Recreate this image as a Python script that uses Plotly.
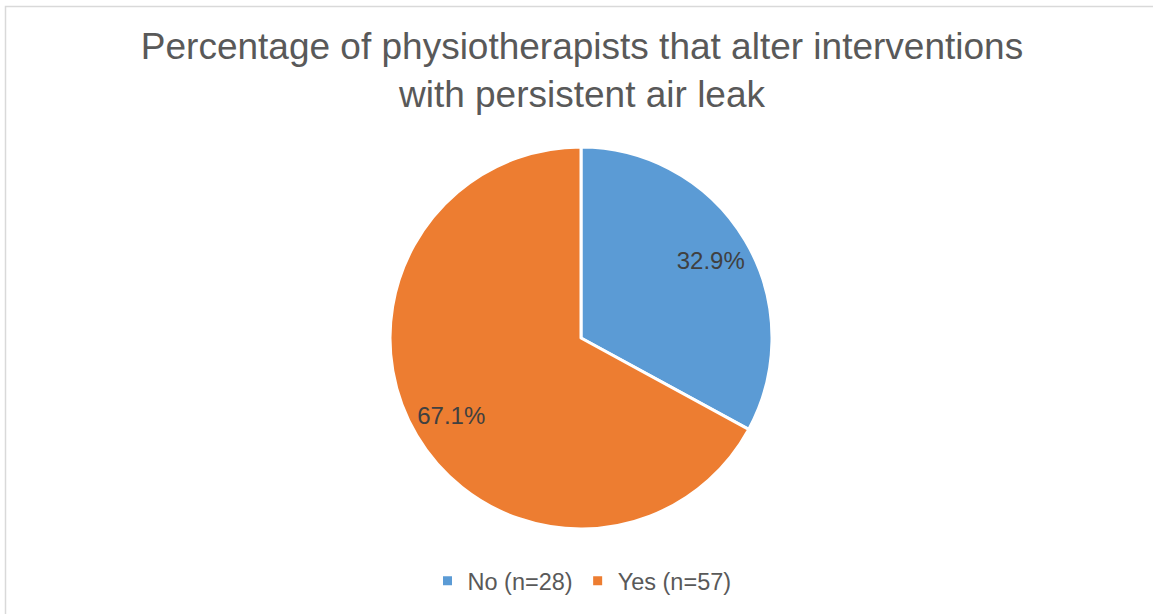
import plotly.graph_objects as go

categories = ["No (n=28)", "Yes (n=57)"]
counts = [28, 57]
colors = ["#5B9BD5", "#ED7D31"]
title_text = "Percentage of physiotherapists that alter interventions<br>with persistent air leak"

W, H = 1153, 614
dom = dict(x=[390 / W, 772 / W], y=[1 - 529 / H, 1 - 147 / H])

fig = go.Figure()
# Filled slices
fig.add_trace(go.Pie(
    labels=categories,
    values=counts,
    sort=False,
    direction="clockwise",
    rotation=0,
    marker=dict(colors=colors, line=dict(color="white", width=3)),
    textinfo="none",
    domain=dom,
    hoverinfo="label+percent",
))
# Transparent ring used only to place percentage labels near the outer part
fig.add_trace(go.Pie(
    labels=categories,
    values=counts,
    sort=False,
    direction="clockwise",
    rotation=0,
    hole=0.58,
    marker=dict(colors=["rgba(0,0,0,0)"] * 2, line=dict(width=0)),
    texttemplate="%{percent:.1%}",
    textposition="inside",
    insidetextorientation="horizontal",
    textfont=dict(family="Liberation Sans, Arial", size=24, color="#404040"),
    domain=dom,
    showlegend=False,
    hoverinfo="skip",
))

fig.update_layout(
    width=W, height=H,
    margin=dict(l=0, r=0, t=0, b=0),
    paper_bgcolor="white",
    title=dict(
        text=title_text,
        x=582 / W, xanchor="center",
        y=1 - 59 / H, yanchor="top",
        font=dict(family="Liberation Sans, Arial", size=37, color="#595959"),
    ),
    legend=dict(
        orientation="h",
        x=582 / W, xanchor="center",
        y=1 - 581 / H, yanchor="middle",
        font=dict(family="Liberation Sans, Arial", size=23.5, color="#595959"),
        itemwidth=30,
    ),
    shapes=[dict(
        type="rect", xref="paper", yref="paper",
        x0=5.5 / W, x1=1.01, y0=-0.01, y1=1 - 6.5 / H,
        line=dict(color="#D9D9D9", width=1.5),
        fillcolor="rgba(0,0,0,0)",
    )],
)

fig.write_html(
    "out.html",
    config={"displayModeBar": False},
    post_script="document.body.style.margin='0';document.body.style.overflow='hidden';",
)
